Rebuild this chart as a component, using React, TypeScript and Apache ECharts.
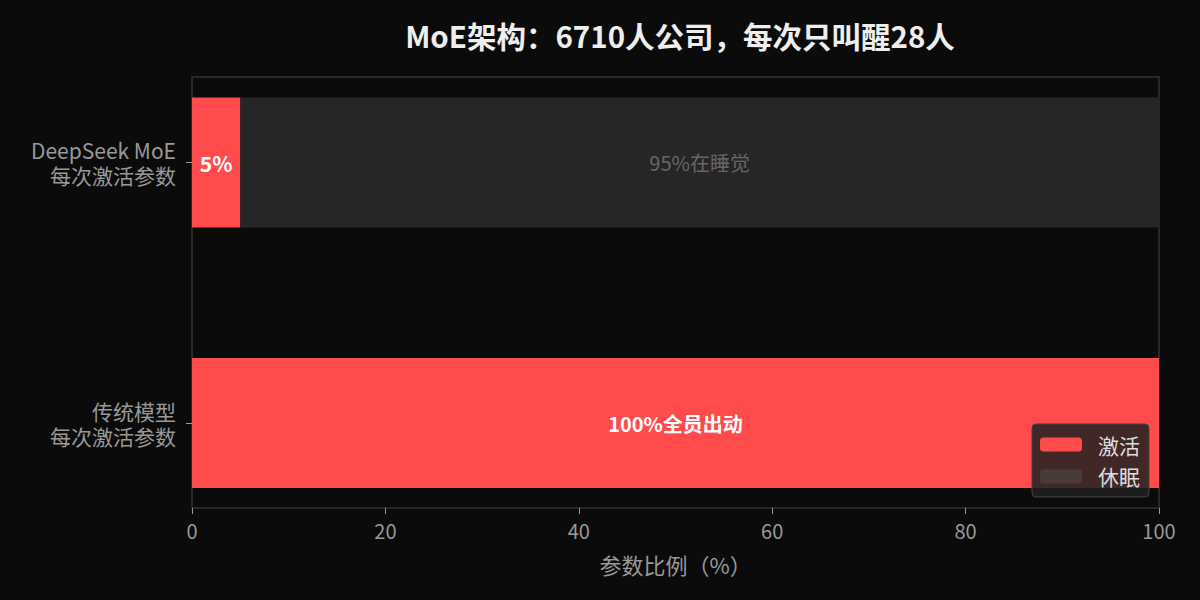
import React, { useEffect, useRef } from 'react';
import * as echarts from 'echarts';

const FONT = '"Noto Sans CJK SC", "Noto Sans", sans-serif';

// categories bottom -> top
const categories = ['传统模型\n每次激活参数', 'DeepSeek MoE\n每次激活参数'];
const activeValues = [100, 5];
const sleepValues = [0, 95];
const activeLabels = ['100%全员出动', '5%'];
const sleepLabels = ['', '95%在睡觉'];
const xTicks = [0, 20, 40, 60, 80, 100];

const TH = {
  BG: '#0b0b0b',
  RED: '#ff4b4b',
  SLEEP: '#262626',
  FRAME: '#333333',
  LABEL: '#999999',
  TITLE: '#eeeeee',
};

const App = (): JSX.Element => {
  const divEL = useRef(null);

  useEffect(() => {
    document.body.style.margin = '0';
    const instance = echarts.init(divEL.current as any, null, { renderer: 'svg' });

    const option: any = {
      animation: false,
      backgroundColor: TH.BG,
      textStyle: { fontFamily: FONT },
      title: {
        text: 'MoE架构：6710人公司，每次只叫醒28人',
        left: 675,
        top: 15,
        textAlign: 'center',
        textStyle: { color: TH.TITLE, fontSize: 29.5, fontWeight: 'bold', fontFamily: FONT },
      },
      legend: {
        orient: 'vertical',
        right: 51,
        top: 424,
        itemWidth: 42,
        itemHeight: 14,
        itemGap: 11,
        padding: [10, 9, 10, 8],
        backgroundColor: 'rgba(33,33,33,0.85)',
        borderColor: '#444',
        borderWidth: 1,
        borderRadius: 4,
        textStyle: { color: '#dddddd', fontSize: 21, fontFamily: FONT, padding: [0, 0, 0, 11] },
        data: [
          { name: '激活', itemStyle: { color: TH.RED } },
          { name: '休眠', itemStyle: { color: '#4a3b3b' } },
        ],
        z: 10,
      },
      grid: [
        {
          left: 192,
          right: 41,
          top: 77,
          height: 431,
          show: true,
          borderColor: TH.FRAME,
          borderWidth: 1.5,
          backgroundColor: 'transparent',
        },
        {
          left: 192,
          right: 41,
          top: 32.25,
          height: 521,
        },
      ],
      xAxis: [
        {
          gridIndex: 0,
          type: 'value',
          min: 0,
          max: 100,
          interval: 20,
          name: '参数比例（%）',
          nameLocation: 'middle',
          nameGap: 45,
          nameTextStyle: { color: TH.LABEL, fontSize: 22, fontFamily: FONT },
          axisLine: { show: false },
          axisTick: { show: true, length: 6, lineStyle: { color: TH.LABEL } },
          axisLabel: {
            color: TH.LABEL,
            fontSize: 20,
            margin: 12,
            fontFamily: FONT,
            customValues: xTicks,
          },
          splitLine: { show: false },
        },
        {
          gridIndex: 1,
          type: 'value',
          min: 0,
          max: 100,
          show: false,
        },
      ],
      yAxis: [
        {
          gridIndex: 0,
          type: 'value',
          show: false,
        },
        {
          gridIndex: 1,
          type: 'category',
          data: categories,
          axisLine: { show: false },
          axisTick: { show: true, alignWithLabel: true, length: 6, lineStyle: { color: TH.LABEL } },
          axisLabel: {
            color: TH.LABEL,
            fontSize: 21,
            lineHeight: 25,
            margin: 16,
            align: 'right',
            fontFamily: FONT,
          },
          splitLine: { show: false },
        },
      ],
      series: [
        {
          name: '激活',
          type: 'bar',
          xAxisIndex: 1,
          yAxisIndex: 1,
          stack: 'total',
          barWidth: 130,
          itemStyle: { color: TH.RED },
          label: {
            show: true,
            position: 'inside',
            color: '#ffffff',
            fontWeight: 'bold',
            fontSize: 20,
            fontFamily: FONT,
            formatter: (p: any) => activeLabels[p.dataIndex],
          },
          data: activeValues.map((v, i) =>
            i === 1 ? { value: v, label: { fontSize: 21 } } : v
          ),
        },
        {
          name: '休眠',
          type: 'bar',
          xAxisIndex: 1,
          yAxisIndex: 1,
          stack: 'total',
          barWidth: 130,
          itemStyle: { color: TH.SLEEP },
          label: {
            show: true,
            position: 'inside',
            color: '#666666',
            fontSize: 20,
            fontFamily: FONT,
            formatter: (p: any) => sleepLabels[p.dataIndex],
          },
          data: sleepValues,
        },
      ],
    };

    instance.setOption(option);

    return () => {
      instance.dispose();
    };
  }, []);

  return <div ref={divEL} style={{ width: 1200, height: 600 }}></div>;
};

export default App;
